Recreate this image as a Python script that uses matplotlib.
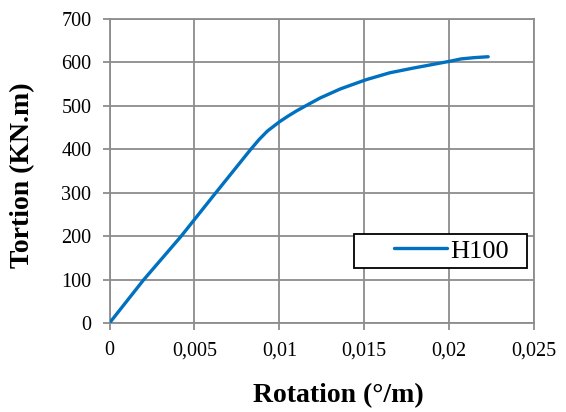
import matplotlib.pyplot as plt
from matplotlib.patches import Rectangle

GRID = "#8c8c8c"
LINE_COLOR = "#0070c0"

rotation = [0.0, 0.0020, 0.0042, 0.0062, 0.0083, 0.0088, 0.0093, 0.0097, 0.0100,
            0.0105, 0.0110, 0.0116, 0.0124, 0.0136, 0.0151, 0.0165, 0.0179,
            0.0190, 0.0201, 0.0207, 0.0215, 0.0223]
torsion = [0, 99, 199, 297, 399, 422, 442, 454, 463,
           476, 488, 501, 518, 539, 560, 576, 587,
           595, 603, 608, 611, 613]

x_ticks = [0, 0.005, 0.01, 0.015, 0.02, 0.025]
x_labels = ["0", "0,005", "0,01", "0,015", "0,02", "0,025"]
y_ticks = [0, 100, 200, 300, 400, 500, 600, 700]

plt.rcParams["font.family"] = ["Liberation Serif", "DejaVu Serif"]

fig = plt.figure(figsize=(5.66, 4.12), dpi=100)
ax = fig.add_axes([0.1935, 0.216, 0.75, 0.738])

ax.plot(rotation, torsion, color=LINE_COLOR, linewidth=2.4, label="H100",
        solid_capstyle="round", solid_joinstyle="round", zorder=3)

ax.set_xlim(0, 0.025)
ax.set_ylim(0, 700)
ax.set_xticks(x_ticks)
ax.set_xticklabels(x_labels)
ax.set_yticks(y_ticks)
ax.grid(True, color=GRID, linewidth=1.3, zorder=0)
for spine in ax.spines.values():
    spine.set_color(GRID)
    spine.set_linewidth(1.3)
ax.tick_params(direction="out", length=5, width=1.3, color=GRID,
               labelsize=14.5, pad=8)
ax.tick_params(axis="y", pad=8)

ax.set_xlabel("Rotation (°/m)", fontsize=20, fontweight="bold")
ax.set_ylabel("Tortion (KN.m)", fontsize=20, fontweight="bold")
ax.xaxis.set_label_coords(0.539, -0.197)
ax.yaxis.set_label_coords(-0.175, 0.487)

# legend box is drawn separately so it can be wider than its entry
ax.add_patch(Rectangle((0.576, 0.181), 0.407, 0.112, transform=ax.transAxes,
                       facecolor="white", edgecolor="black", linewidth=1.3,
                       zorder=4))
ax.legend(loc="center right", bbox_to_anchor=(0.94, 0.237), borderaxespad=0,
          borderpad=0, fontsize=19, frameon=False, handlelength=2.0,
          handletextpad=0.12).set_zorder(5)

fig.savefig("out.png", dpi=100)
